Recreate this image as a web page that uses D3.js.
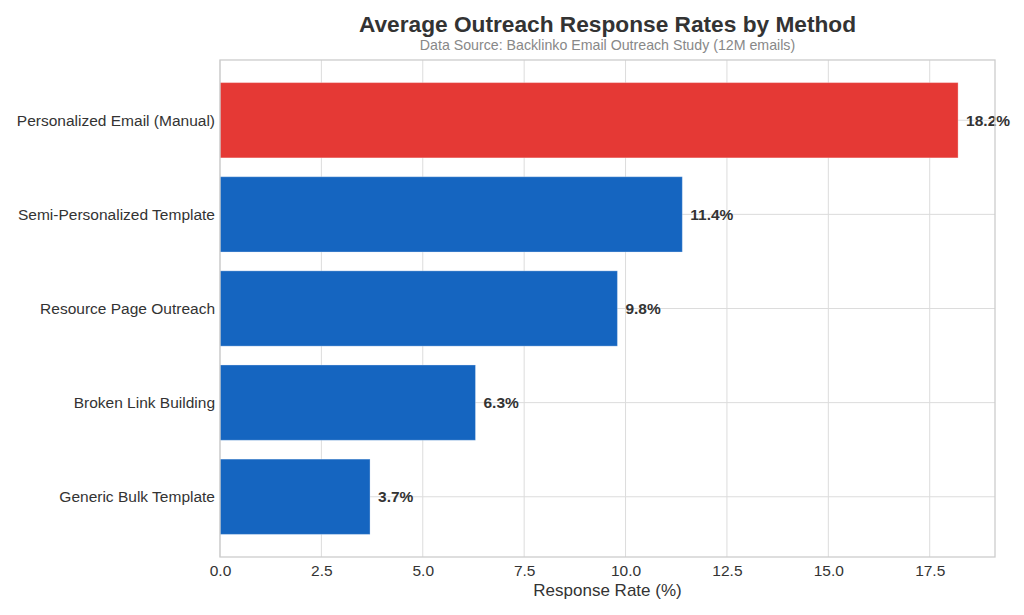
<!DOCTYPE html>
<html>
<head>
<meta charset="utf-8">
<script src="https://cdn.jsdelivr.net/npm/d3@7"></script>
<style>
  body { margin: 0; background: #fff; }
  text { font-family: "Liberation Sans", Arial, sans-serif; }
</style>
</head>
<body>
<div id="chart"></div>
<script>
const methods = [
    "Personalized Email (Manual)",
    "Semi-Personalized Template",
    "Resource Page Outreach",
    "Broken Link Building",
    "Generic Bulk Template"
];
const rates = [18.2, 11.4, 9.8, 6.3, 3.7];
const xTicks = [0, 2.5, 5, 7.5, 10, 12.5, 15, 17.5];

const W = 1024, H = 615;
const margin = { top: 60, right: 29, bottom: 58, left: 220 };
const width = W - margin.left - margin.right,
    height = H - margin.top - margin.bottom;

const svg = d3.select("#chart").append("svg")
    .attr("width", W)
    .attr("height", H);

const g = svg.append("g")
    .attr("transform", "translate(" + margin.left + "," + margin.top + ")");

// matplotlib style limits: 0..max*1.05 and index -0.64..4.64
const x = d3.scaleLinear().domain([0, d3.max(rates) * 1.05]).range([0, width]);
const y = d3.scaleLinear().domain([-0.64, methods.length - 1 + 0.64]).range([0, height]);
const barH = y(0.4) - y(-0.4);

// grid
g.selectAll(".vgrid").data(xTicks).enter().append("line")
    .attr("x1", d => x(d)).attr("x2", d => x(d))
    .attr("y1", 0).attr("y2", height)
    .attr("stroke", "#dcdcdc").attr("stroke-width", 1);
g.selectAll(".hgrid").data(methods).enter().append("line")
    .attr("x1", 0).attr("x2", width)
    .attr("y1", (d, i) => y(i)).attr("y2", (d, i) => y(i))
    .attr("stroke", "#dcdcdc").attr("stroke-width", 1);

// bars
g.selectAll(".bar").data(rates).enter().append("rect")
    .attr("x", x(0))
    .attr("y", (d, i) => y(i) - barH / 2)
    .attr("width", d => x(d) - x(0))
    .attr("height", barH)
    .attr("fill", (d, i) => i === 0 ? "#e53935" : "#1565c0")
    .attr("stroke", "#ffffff").attr("stroke-opacity", 0.3).attr("stroke-width", 1);

// value labels
g.selectAll(".val").data(rates).enter().append("text")
    .attr("x", d => x(d) + 8)
    .attr("y", (d, i) => y(i))
    .attr("dy", "0.35em")
    .attr("font-size", 15.5).attr("font-weight", "bold").attr("fill", "#333")
    .text(d => d.toFixed(1) + "%");

// frame
g.append("rect")
    .attr("width", width).attr("height", height)
    .attr("fill", "none").attr("stroke", "#cccccc").attr("stroke-width", 1.3);

// x axis
const xAxis = g.append("g")
    .attr("transform", "translate(0," + height + ")")
    .call(d3.axisBottom(x).tickValues(xTicks).tickFormat(d3.format(".1f")).tickSize(0).tickPadding(8));
xAxis.select(".domain").remove();
xAxis.selectAll("text").attr("font-size", 15.5).attr("fill", "#333");

// y labels
g.selectAll(".ylab").data(methods).enter().append("text")
    .attr("x", -5)
    .attr("y", (d, i) => y(i))
    .attr("dy", "0.35em")
    .attr("text-anchor", "end")
    .attr("font-size", 15.5).attr("fill", "#333")
    .text(d => d);

// titles
svg.append("text")
    .attr("x", margin.left + width / 2).attr("y", 32)
    .attr("text-anchor", "middle")
    .attr("font-size", 22.7).attr("font-weight", "bold").attr("fill", "#333")
    .text("Average Outreach Response Rates by Method");
svg.append("text")
    .attr("x", margin.left + width / 2).attr("y", 50)
    .attr("text-anchor", "middle")
    .attr("font-size", 14.2).attr("fill", "#888")
    .text("Data Source: Backlinko Email Outreach Study (12M emails)");
svg.append("text")
    .attr("x", margin.left + width / 2).attr("y", 596)
    .attr("text-anchor", "middle")
    .attr("font-size", 17).attr("fill", "#333")
    .text("Response Rate (%)");
</script>
</body>
</html>
